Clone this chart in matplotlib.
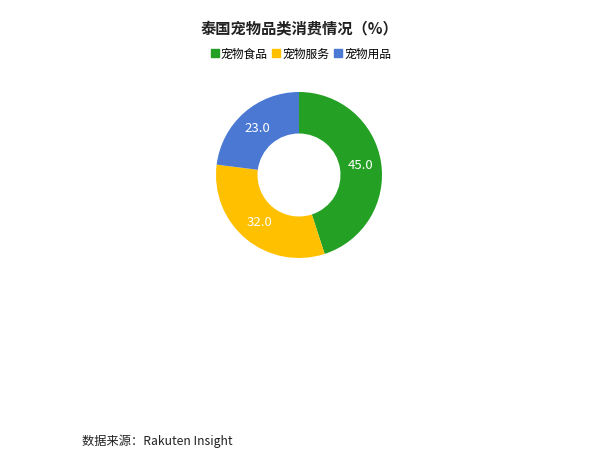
import matplotlib
matplotlib.use("Agg")
import matplotlib.pyplot as plt
from matplotlib.lines import Line2D

plt.rcParams['font.family'] = ['Noto Sans CJK SC', 'DejaVu Sans']

categories = ["宠物食品", "宠物服务", "宠物用品"]
values = [45.0, 32.0, 23.0]
colors = ["#24a024", "#ffc000", "#4a78d2"]
title = "泰国宠物品类消费情况（%）"
source = "数据来源：Rakuten Insight"

fig = plt.figure(figsize=(6, 4.68), dpi=100)
W, H = 600, 468
cx, cy, r = 299, 175, 83
ax = fig.add_axes([(cx - r) / W, 1 - (cy + r) / H, 2 * r / W, 2 * r / H])
wedges, texts, autotexts = ax.pie(values, colors=colors, startangle=90, counterclock=False,
                                  radius=1.0, wedgeprops=dict(width=0.5, edgecolor='none'),
                                  autopct=lambda p: f"{p:.1f}", pctdistance=0.75,
                                  textprops=dict(color='white', fontsize=9.5))
ax.set_xlim(-1, 1)
ax.set_ylim(-1, 1)
ax.set_aspect('equal')
ax.axis('off')

fig.text(cx / W, 1 - 28 / H, title, ha='center', va='center', fontsize=11, fontweight='bold', color='#222222')

handles = [Line2D([0], [0], marker='s', linestyle='none', markerfacecolor=c, markeredgecolor=c, markersize=5.5)
           for c in colors]
fig.legend(handles, categories, loc='center', bbox_to_anchor=(cx / W + 0.002, 1 - 54 / H), ncol=3, frameon=False,
           fontsize=8.5, handletextpad=0.05, columnspacing=0.3, handlelength=0.9)

fig.text(82 / W, 1 - 441 / H, source, ha='left', va='center', fontsize=8.8, color='#222222')

fig.savefig("out.png", dpi=100)
